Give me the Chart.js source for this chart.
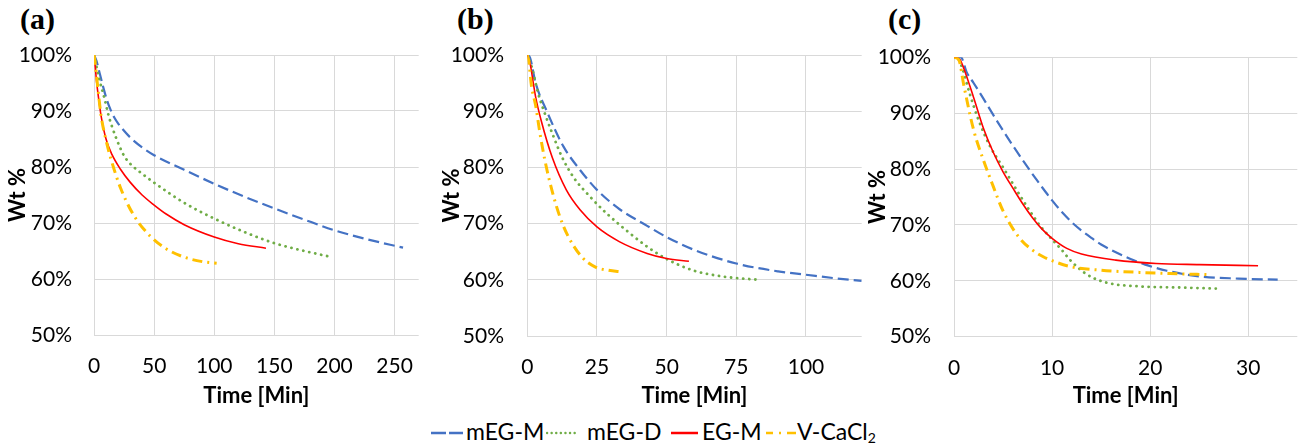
<!DOCTYPE html>
<html>
<head>
<meta charset="utf-8">
<script src="https://cdn.jsdelivr.net/npm/chart.js@4.4.1/dist/chart.umd.min.js"></script>
<style>
  body { margin: 0; background: #fff; width: 1301px; height: 446px; overflow: hidden; position: relative; font-family: Lato, sans-serif; }
  .panel { position: absolute; top: 0; }
  .tag { position: absolute; top: 4px; font: bold 30px "Liberation Serif", serif; color: #000; line-height: 30px; }
  .leg { position: absolute; top: -2px; font-size: 23px; color: #000; line-height: 26px; white-space: nowrap; }
  .leg sub { font-size: 14px; vertical-align: -3px; line-height: 0; }
  .sw { position: absolute; top: 0; }
</style>
</head>
<body>
<div class="tag" style="left:20px">(a)</div>
<div class="tag" style="left:457px">(b)</div>
<div class="tag" style="left:888px">(c)</div>

<div class="panel" style="left:0px"><canvas id="chartA" width="432" height="410"></canvas></div>
<div class="panel" style="left:432px"><canvas id="chartB" width="432" height="410"></canvas></div>
<div class="panel" style="left:864px"><canvas id="chartC" width="437" height="410"></canvas></div>

<div id="legend" style="position:absolute;left:0;top:420px;width:1301px;height:26px"></div>

<script>
const seriesNames = ['mEG-M', 'mEG-D', 'EG-M', 'V-CaCl₂']
const yTicks = [50, 60, 70, 80, 90, 100]

// (a) time [min], wt %
const xTicksA = [0, 50, 100, 150, 200, 250]
const aMegM = [[0,100],[2,99],[5,96.5],[8,94],[11,91.8],[14,90.1],[17,88.8],[20,87.8],[30,85.3],[40,83.5],[50,82.1],[75,79.5],[100,77],[125,74.7],[150,72.6],[175,70.6],[200,68.7],[225,67.2],[257,65.6]]
const aMegD = [[0,100],[2,98],[4,96],[9,92],[12,89.3],[15,87.2],[18,85.4],[21,83.8],[25,82],[30,80.6],[40,78.8],[50,77.2],[75,73.6],[100,70.8],[125,68.4],[150,66.4],[175,65],[196,64]]
const aEgM = [[0,100],[1,98],[2,95.5],[4,92],[6,89],[10,85],[15,82.2],[22,79.6],[30,77.3],[40,75],[50,73.2],[60,71.6],[75,69.7],[100,67.5],[120,66.3],[143,65.5]]
const aVCa = [[0,100],[1,98.5],[2,96.5],[4,92.5],[6,89],[10,84.8],[14,81.5],[22,76.3],[33,71.4],[47,67.6],[60,65.4],[75,63.9],[90,63.1],[102,62.8]]

// (b)
const xTicksB = [0, 25, 50, 75, 100]
const bMegM = [[0,100],[1,99.5],[3,95],[7,90],[13,83.7],[19,79.5],[25,76],[33,72.6],[43,69.6],[50,67.6],[60,65.3],[75,62.9],[90,61.5],[100,60.9],[110,60.3],[120,59.8]]
const bMegD = [[0,100],[1.5,98],[4,93],[6,90],[9,86],[12.5,81.8],[16.5,78.3],[22.5,74.8],[28.5,71.8],[36,68.6],[43,65.9],[50,63.7],[60,61.6],[70,60.6],[83,60]]
const bEgM = [[0,100],[1,98.5],[2,95.5],[3,92.5],[5,88.3],[9,81.7],[14,76],[19,72.4],[25,69.4],[33,66.8],[43,64.7],[50,63.8],[58,63.3]]
const bVCa = [[0,100],[0.5,99],[1.5,94.5],[3,91],[4.5,86.2],[6.3,81.3],[8.8,76],[11.7,71.2],[14.7,67.7],[19.5,64.1],[24.3,62.3],[29,61.7],[34,61.4]]

// (c)
const xTicksC = [0, 10, 20, 30]
const cMegM = [[0,100],[0.7,100],[1.3,97.3],[2,95.4],[3,92.6],[4,89.7],[5,86.9],[6,84.2],[7,81.6],[8,79.1],[9,76.7],[10,74.4],[11,72.3],[12,70.5],[13,69],[14,67.7],[15,66.5],[16.5,65.1],[18,63.9],[19.5,62.9],[21.7,61.8],[25,60.8],[29,60.4],[33,60.2]]
const cMegD = [[0,100],[0.4,99.8],[0.8,98.3],[1.6,93.5],[2.5,88.8],[3.7,84],[5,80.3],[6.4,76.2],[7.7,72.6],[8.8,69.8],[9.8,67.8],[11,65.5],[11.8,63.8],[13.5,61.2],[15.5,59.7],[19,59],[23,58.8],[27,58.6]]
const cEgM = [[0,100],[0.6,99.6],[1,98],[2,92.8],[3,87.3],[4,83],[5,79.5],[6,76.6],[7,73.8],[8,71.3],[9,69.2],[10,67.6],[11.5,65.8],[13,64.8],[16.5,63.7],[20.6,63.1],[25,62.9],[31,62.7]]
const cVCa = [[0,100],[0.5,99.5],[1,95],[2,87],[3,81.6],[4,76.9],[5,72.5],[6.7,67.6],[8,65.5],[9.1,64.3],[10,63.6],[12,62.5],[15,61.9],[19,61.5],[22,61.3],[26,61.1]]

const styles = [
  { borderColor: '#4472C4', borderWidth: 2.2, borderDash: [11, 5], order: 4 },
  { borderColor: '#70AD47', borderWidth: 2.8, borderDash: [0.1, 6], borderCapStyle: 'round', order: 3 },
  { borderColor: '#FF0000', borderWidth: 1.6, borderDash: [], order: 2 },
  { borderColor: '#FFC000', borderWidth: 3, borderDash: [10, 5, 2, 5], order: 1 }
]

const tickFont = { family: 'Lato', size: 21 }
const titleFont = { family: 'Lato', size: 22, weight: 'bold' }

function makeChart(id, series, xTicks, xMax, opt) {
  const datasets = series.map((pts, i) => ({
    label: seriesNames[i],
    data: pts.map(([x, y]) => ({ x, y })),
    pointRadius: 0,
    fill: false,
    cubicInterpolationMode: 'monotone',
    ...styles[i]
  }))
  return new Chart(document.getElementById(id), {
    type: 'line',
    data: { datasets },
    options: {
      responsive: false,
      animation: false,
      devicePixelRatio: 1,
      layout: { padding: { top: opt.top, right: opt.right, left: 0, bottom: 0 } },
      plugins: { legend: { display: false }, tooltip: { enabled: false } },
      scales: {
        x: {
          type: 'linear',
          min: 0,
          max: xMax,
          afterBuildTicks: s => { s.ticks = xTicks.map(v => ({ value: v })) },
          afterFit: s => { s.height = opt.xh },
          grid: { color: '#D9D9D9', drawTicks: false },
          border: { display: false },
          ticks: { font: tickFont, color: '#000', padding: 19, maxRotation: 0, autoSkip: false },
          title: { display: true, text: 'Time [Min]', font: titleFont, color: '#000', padding: { top: 0, bottom: 1 } }
        },
        y: {
          min: 50,
          max: 100,
          afterBuildTicks: s => { s.ticks = yTicks.map(v => ({ value: v })) },
          afterFit: s => { s.width = opt.yw },
          grid: { color: '#D9D9D9', drawTicks: false },
          border: { display: false },
          ticks: { font: tickFont, color: '#000', padding: opt.tp, callback: v => v + '%' },
          title: { display: true, text: 'Wt %', font: titleFont, color: '#000', padding: { top: opt.ty, bottom: 0 } }
        }
      }
    }
  })
}

makeChart('chartA', [aMegM, aMegD, aEgM, aVCa], xTicksA, 270, { top: 55, right: 1.3, xh: 75, yw: 94, tp: 22, ty: 5 })
makeChart('chartB', [bMegM, bMegD, bEgM, bVCa], xTicksB, 120, { top: 55, right: 2.3, xh: 74, yw: 95.3, tp: 23.3, ty: 6.5 })
makeChart('chartC', [cMegM, cMegD, cEgM, cVCa], xTicksC, 35, { top: 57.3, right: 3.7, xh: 73.3, yw: 90, tp: 23, ty: 1 })

// shared legend below the panels
const legendItems = [
  { sw: 430, sww: 34, text: 466, dash: '15 3', w: 2.5 },
  { sw: 546, sww: 34, text: 587, dash: '0.1 4.5', w: 2.4, cap: 'round' },
  { sw: 670, sww: 29, text: 702, dash: '', w: 2.5 },
  { sw: 765, sww: 32, text: 797, dash: '7 6 2 6 9', w: 2.5 }
]
const legend = document.getElementById('legend')
legendItems.forEach((it, i) => {
  const color = styles[i].borderColor
  const svg = `<svg class="sw" style="left:${it.sw}px" width="${it.sww}" height="24">
    <line x1="1" y1="13" x2="${it.sww - 1}" y2="13" stroke="${color}" stroke-width="${it.w}"
      stroke-dasharray="${it.dash}" stroke-linecap="${it.cap || 'butt'}"/></svg>`
  const label = seriesNames[i] === 'V-CaCl₂' ? 'V-CaCl<sub>2</sub>' : seriesNames[i]
  legend.insertAdjacentHTML('beforeend', svg + `<span class="leg" style="left:${it.text}px">${label}</span>`)
})
</script>
</body>
</html>
